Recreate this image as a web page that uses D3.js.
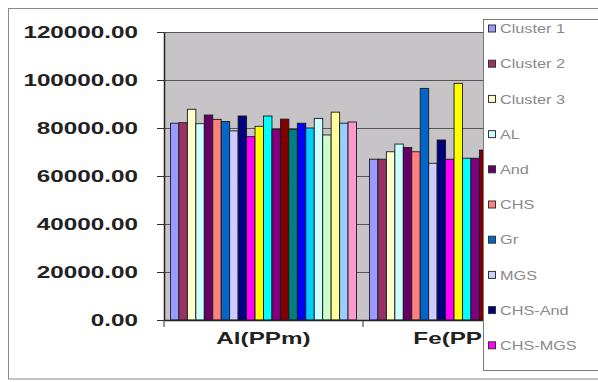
<!DOCTYPE html>
<html>
<head>
<meta charset="utf-8">
<script src="https://cdn.jsdelivr.net/npm/d3@7"></script>
<style>
  html, body { margin: 0; padding: 0; background: #fff; }
  svg { display: block; }
</style>
</head>
<body>
<svg id="chart" width="598" height="382"></svg>
<script>
// ---- data ----
const categories = ["Al(PPm)", "Fe(PPm)"];
const legendNames = ["Cluster 1", "Cluster 2", "Cluster 3", "AL", "And", "CHS", "Gr", "MGS", "CHS-And", "CHS-MGS"];
const seriesColors = ["#9999FF", "#993366", "#FFFFCC", "#CCFFFF", "#660066", "#FF8080", "#0066CC", "#CCCCFF",
  "#000080", "#FF00FF", "#FFFF00", "#00FFFF", "#800080", "#800000", "#008080", "#0000FF",
  "#00CCFF", "#CCFFFF", "#CCFFCC", "#FFFF99", "#99CCFF", "#FF99CC"];
const alValues = [82000, 82200, 87800, 81800, 85400, 83600, 82700, 78800, 85000, 76400, 80700,
  85000, 79400, 83700, 79400, 82000, 80000, 84000, 77100, 86600, 82000, 82500];
const feValues = [67000, 67000, 70100, 73300, 71900, 70100, 96500, 65300, 75000, 67000, 98600,
  67400, 67400, 70800, 66000, 67500, 68000, 69000, 66500, 70000, 67000, 68000];
const yTicks = [0, 20000, 40000, 60000, 80000, 100000, 120000];

const valuesByCat = [alValues, feValues];

// ---- layout ----
const svg = d3.select("#chart");
const plot = { left: 164, right: 562, top: 32, bottom: 320 };
const SX = 1.47; // horizontal stretch of the original picture

// chart area border
svg.append("rect").attr("x", 8.5).attr("y", 8.5).attr("width", 620).attr("height", 370.5)
  .attr("fill", "#fff").attr("stroke", "#8a8a8a").attr("stroke-width", 1);

const x0 = d3.scaleBand().domain(categories).range([plot.left, plot.right])
  .paddingInner(0.065).paddingOuter(0.0325);
const x1 = d3.scaleBand().domain(d3.range(seriesColors.length)).range([0, x0.bandwidth()]).padding(0);
const y = d3.scaleLinear().domain([0, 120000]).range([plot.bottom, plot.top]);

// plot area background
svg.append("rect").attr("x", plot.left).attr("y", plot.top)
  .attr("width", plot.right - plot.left).attr("height", plot.bottom - plot.top)
  .attr("fill", "#c6c4c6");

// gridlines
svg.append("g").selectAll("line").data(yTicks.filter(d => d > 0)).join("line")
  .attr("x1", plot.left).attr("x2", plot.right)
  .attr("y1", d => Math.round(y(d)) + 0.5).attr("y2", d => Math.round(y(d)) + 0.5)
  .attr("stroke", "#555").attr("stroke-width", 1);

// bars
const groups = svg.append("g").selectAll("g").data(categories).join("g")
  .attr("transform", d => `translate(${x0(d)},0)`);
groups.selectAll("rect")
  .data((c, ci) => valuesByCat[ci].map((v, si) => ({ v, si })))
  .join("rect")
  .attr("x", d => x1(d.si))
  .attr("y", d => y(d.v))
  .attr("width", x1.bandwidth())
  .attr("height", d => y(0) - y(d.v))
  .attr("fill", d => seriesColors[d.si])
  .attr("stroke", "#1a1a1a").attr("stroke-width", 0.9);

// y axis
const yAxis = svg.append("g").attr("transform", `translate(${plot.left},0)`)
  .call(d3.axisLeft(y).tickValues(yTicks).tickSize(7).tickSizeOuter(0)
    .tickFormat(d => d3.format(".2f")(d)));
yAxis.select(".domain").attr("stroke", "#222").attr("stroke-width", 1.5);
yAxis.selectAll(".tick line").attr("stroke", "#333");
yAxis.selectAll(".tick text")
  .attr("x", -26 / SX).attr("dy", "0.36em")
  .attr("transform", `scale(${SX},1)`)
  .attr("font-family", "Liberation Sans, Arial, sans-serif")
  .attr("font-size", 16.5).attr("font-weight", "bold").attr("fill", "#222");

// x axis
const xAxis = svg.append("g").attr("transform", `translate(0,${plot.bottom})`)
  .call(d3.axisBottom(x0).tickSize(0).tickSizeOuter(0));
xAxis.select(".domain").attr("stroke", "#222").attr("stroke-width", 1.5);
xAxis.selectAll(".tick text").remove();
// category boundary ticks
svg.append("g").selectAll("line")
  .data([plot.left, x0(categories[1]) - x0.step() * x0.paddingInner() / 2, plot.right]).join("line")
  .attr("x1", d => d).attr("x2", d => d)
  .attr("y1", plot.bottom).attr("y2", plot.bottom + 7)
  .attr("stroke", "#333");
// category labels
svg.append("g").selectAll("text").data(categories).join("text")
  .attr("transform", d => `translate(${x0(d) + x0.bandwidth() / 2},344) scale(${SX},1)`)
  .attr("text-anchor", "middle")
  .attr("font-family", "Liberation Sans, Arial, sans-serif")
  .attr("font-size", 16.5).attr("font-weight", "bold").attr("fill", "#222")
  .text(d => d);

// legend
const lg = svg.append("g");
lg.append("rect").attr("x", 483.5).attr("y", 19.5).attr("width", 140).attr("height", 351)
  .attr("fill", "#fff").attr("stroke", "#7a7a7a");
const items = lg.selectAll("g.item").data(legendNames).join("g")
  .attr("class", "item")
  .attr("transform", (d, i) => `translate(0,${28.5 + i * 35.2})`);
items.append("rect").attr("x", 488.5).attr("y", -3.5).attr("width", 7).attr("height", 7)
  .attr("fill", (d, i) => seriesColors[i]).attr("stroke", "#333").attr("stroke-width", 1);
items.append("text")
  .attr("transform", `translate(500,0) scale(1.25,1)`)
  .attr("dy", "0.36em")
  .attr("font-family", "Liberation Sans, Arial, sans-serif")
  .attr("font-size", 13).attr("fill", "#8a8a8a")
  .text(d => d);
</script>
</body>
</html>
